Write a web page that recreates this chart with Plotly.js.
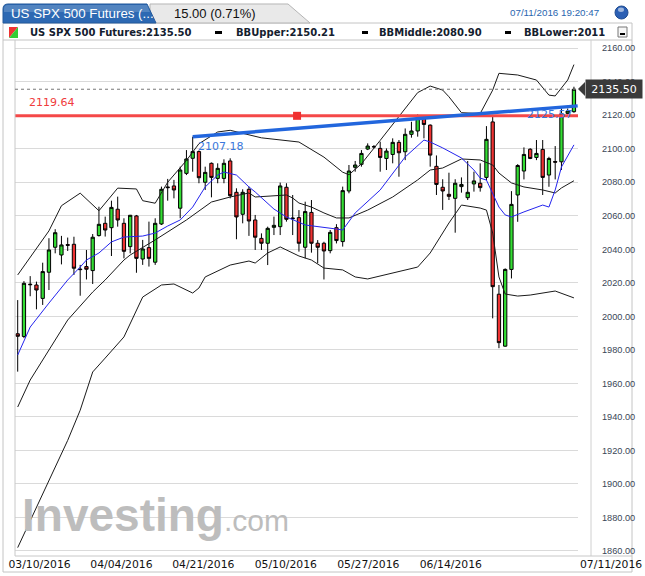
<!DOCTYPE html>
<html><head><meta charset="utf-8">
<script src="https://cdn.plot.ly/plotly-3.0.1.min.js"></script>
<style>html,body{margin:0;padding:0;background:#fff;}#chart{width:645px;height:576px;}</style>
</head><body><div id="chart"></div>
<script>
// ---- data ----
const open  = [1989.6,1988.0,2019.2,2018.7,2010.7,2026.3,2041.2,2036.6,2042.8,2043.0,2028.2,2029.7,2027.3,2048.2,2055.5,2052.9,2063.9,2055.5,2041.6,2059.9,2034.2,2041.0,2032.3,2055.1,2077.2,2077.8,2064.5,2085.3,2094.3,2098.3,2080.0,2091.3,2082.3,2082.3,2092.7,2074.0,2060.9,2075.8,2057.5,2046.5,2043.6,2053.1,2053.5,2077.0,2058.7,2058.9,2041.2,2062.0,2043.6,2043.6,2039.2,2052.9,2044.6,2074.8,2088.9,2090.7,2099.8,2101.3,2100.2,2094.2,2096.6,2103.8,2098.2,2108.6,2110.6,2118.1,2114.1,2089.5,2077.0,2072.8,2070.4,2077.4,2070.8,2079.0,2079.4,2082.9,2116.0,2013.2,1982.2,2028.0,2072.4,2086.7,2099.7,2094.8,2099.6,2084.3,2092.4,2092.2,2121.1,2122.1];
const high  = [2009.7,2021.0,2024.0,2020.7,2032.0,2046.6,2052.0,2048.0,2047.0,2047.5,2030.7,2039.6,2049.1,2065.4,2059.5,2069.0,2071.4,2058.5,2060.5,2060.5,2045.6,2056.5,2058.5,2077.4,2082.0,2081.4,2089.3,2099.2,2107.18,2099.0,2089.3,2091.8,2091.3,2093.7,2094.3,2076.4,2075.8,2077.4,2060.5,2049.5,2053.5,2059.5,2079.8,2079.4,2072.4,2063.4,2068.4,2069.4,2045.5,2044.5,2051.5,2055.0,2077.4,2090.3,2092.7,2099.2,2103.2,2102.2,2104.2,2100.2,2106.2,2105.2,2112.1,2116.1,2120.5,2118.5,2114.5,2096.0,2081.8,2085.7,2081.8,2082.9,2092.7,2086.3,2091.3,2113.5,2120.2,2018.7,2028.6,2074.7,2090.8,2100.8,2100.3,2105.2,2105.2,2095.2,2101.6,2124.0,2124.0,2137.0];
const low   = [1967.0,1987.0,2012.0,2004.2,2006.8,2015.7,2037.6,2031.0,2039.0,2024.7,2012.3,2022.0,2019.3,2047.6,2047.6,2036.0,2053.5,2034.6,2037.6,2026.0,2030.7,2029.7,2030.7,2054.5,2069.0,2070.4,2058.5,2084.3,2086.3,2079.4,2075.4,2071.0,2079.4,2079.4,2070.4,2046.0,2055.5,2048.0,2039.6,2039.6,2030.6,2048.5,2048.5,2056.5,2048.5,2038.6,2034.6,2038.0,2031.6,2022.0,2037.6,2043.5,2041.6,2073.4,2086.3,2089.3,2099.2,2100.2,2086.3,2087.3,2091.3,2083.3,2093.2,2106.6,2107.2,2106.2,2089.3,2072.4,2063.5,2069.4,2049.9,2073.8,2069.4,2074.4,2074.4,2081.3,1998.8,1981.0,1981.9,2022.6,2056.4,2081.7,2093.8,2093.2,2072.4,2077.3,2081.7,2087.3,2120.5,2121.5];
const close = [1988.1,2019.7,2018.9,2015.7,2026.7,2039.6,2049.9,2042.6,2042.4,2028.7,2027.9,2028.1,2047.2,2054.9,2051.5,2065.0,2057.5,2038.8,2060.3,2034.6,2040.2,2034.6,2055.5,2075.8,2076.8,2075.4,2087.3,2093.9,2098.3,2082.7,2085.9,2082.9,2088.3,2091.3,2072.0,2059.3,2074.0,2056.9,2047.2,2043.6,2052.5,2054.3,2077.8,2057.9,2058.3,2043.6,2062.5,2043.6,2041.2,2039.0,2050.1,2045.2,2075.0,2086.7,2090.3,2097.2,2101.6,2101.1,2094.8,2098.6,2103.8,2097.6,2108.6,2110.6,2118.1,2114.5,2096.2,2078.7,2074.8,2071.6,2079.4,2078.7,2074.0,2080.8,2076.8,2105.6,2017.7,1984.3,2028.0,2066.8,2090.0,2096.6,2094.2,2097.2,2082.9,2094.2,2092.0,2120.9,2122.5,2135.5];

const upperX = [0,2,5,7,10,13,16,19,20,22,24,27,29,32,34,39,45,49,52,53,55,58,62,64,66,68,69,71,74,76,77,80,83,85,86,88,89];
const upperY = [2024.7,2035,2051,2066,2073.5,2063,2076.5,2076,2069,2067.5,2080,2093,2103,2110,2111,2106.5,2104,2095,2086,2084.5,2091,2105,2124,2133.5,2137.4,2135,2131,2121.5,2121,2135,2145,2144,2141,2132,2131.5,2141,2150.21];
const middleX = [0,2,8,12,14,17,18,22,27,31,34,37,38,43,44,45,47,49,51,53,56,60,64,66,68,71,74,76,77,78,79,81,84,86,87,89];
const middleY = [1945.9,1962,1997.8,2014.5,2021.7,2033.6,2036.6,2045.6,2057.5,2068.2,2071.2,2073.6,2071.2,2072.4,2070.6,2067.6,2065.2,2061.7,2058.7,2058.7,2063.4,2071.2,2081.4,2087.3,2088.5,2093.9,2093.3,2090.3,2085.5,2082.5,2079.6,2077.2,2075.4,2073.6,2076.6,2080.9];
const lowerX = [0,2,5,8,10,12,14,17,20,23,25,28,29,30,34,37,38,40,42,43,45,47,49,52,54,56,64,66,69,71,74,75,76,77,78,80,82,86,89];
const lowerY = [1862,1878,1902,1926,1944,1966.8,1975.1,1987.7,2011.5,2018.7,2019.3,2013.9,2016.9,2023.5,2030.6,2033,2031.8,2037.8,2041.4,2039.6,2036,2033.6,2028.8,2027.7,2023.5,2022.3,2029.4,2037.8,2055.7,2066.4,2064.6,2063.4,2049.7,2023.5,2013.3,2012.1,2012.7,2015.1,2011];
const maX = [0,2,5,8,10,11,13,15,17,20,22,24,26,28,30,32,33,35,37,38,41,43,46,49,51,52,54,58,62,65,66,68,71,73,74,75,77,78,79,81,84,85,86,87,89];
const maY = [1976.9,1993.6,2007.9,2021.7,2029.4,2033.6,2037.8,2044.4,2047.3,2047.9,2049.7,2053.9,2057.5,2065.2,2077.2,2084.3,2086.1,2084.3,2077.2,2074.2,2064,2059.3,2054.5,2053.3,2052.1,2051.5,2061.7,2075.4,2095.1,2105.2,2104,2100.5,2094.5,2087.3,2082.5,2081.3,2065.2,2060.5,2059.3,2062.3,2066.4,2065.2,2075.4,2089.1,2102.3];

const hLevel = [2119.64];
const hMarkX = [44.7];
const trendX = [28, 89.6];
const trendY = [2107.18, 2125.57];
const lastPrice = 2135.50;

const tickPos  = [3.5, 16.6, 29.7, 42.9, 56.1, 69.3];
const tickText = ['03/10/2016','04/04/2016','04/21/2016','05/10/2016','05/27/2016','06/14/2016'];
const lastTick = '07/11/2016';
const yTicks = [1860,1880,1900,1920,1940,1960,1980,2000,2020,2040,2060,2080,2100,2120,2140,2160];

const idx = open.map((_, i) => i);

// ---- pixel helpers for chrome (page = 645x576, plot 15..578 x 40..556) ----
const PL = 15, PR = 578, PT = 40, PB = 556;
const px = x => (x - PL) / (PR - PL);
const py = y => (PB - y) / (PB - PT);
const P = (x, y) => px(x).toFixed(5) + ',' + py(y).toFixed(5);

const traces = [
  {type: 'candlestick', x: idx, open: open, high: high, low: low, close: close,
   increasing: {line: {color: '#000', width: 1}, fillcolor: '#33dd33'},
   decreasing: {line: {color: '#000', width: 1}, fillcolor: '#ee3333'},
   whiskerwidth: 0, hoverinfo: 'skip', showlegend: false},
  {type: 'scatter', mode: 'lines', x: upperX, y: upperY, line: {color: '#1a1a1a', width: 1}, hoverinfo: 'skip', showlegend: false},
  {type: 'scatter', mode: 'lines', x: middleX, y: middleY, line: {color: '#1a1a1a', width: 1}, hoverinfo: 'skip', showlegend: false},
  {type: 'scatter', mode: 'lines', x: lowerX, y: lowerY, line: {color: '#1a1a1a', width: 1}, hoverinfo: 'skip', showlegend: false},
  {type: 'scatter', mode: 'lines', x: maX, y: maY, line: {color: '#2424ee', width: 1}, hoverinfo: 'skip', showlegend: false},
  {type: 'scatter', mode: 'lines', x: [-0.5, 90], y: [hLevel[0], hLevel[0]], line: {color: '#f54848', width: 3}, hoverinfo: 'skip', showlegend: false},
  {type: 'scatter', mode: 'lines', x: trendX, y: trendY, line: {color: '#2266dd', width: 3.5}, hoverinfo: 'skip', showlegend: false},
  {type: 'scatter', mode: 'markers', x: hMarkX, y: hLevel, marker: {symbol: 'square', size: 8, color: '#f03030'}, hoverinfo: 'skip', showlegend: false}
];

const shapes = [
  // outer frame
  {type: 'rect', xref: 'paper', yref: 'paper', x0: px(3), x1: px(632), y0: py(572), y1: py(23), line: {color: '#c4c4c4', width: 1}, layer: 'below'},
  // legend row bottom
  {type: 'line', xref: 'paper', yref: 'paper', x0: px(3), x1: px(632), y0: py(40), y1: py(40), line: {color: '#c4c4c4', width: 1}},
  // plot left / right separators
  {type: 'line', xref: 'paper', yref: 'paper', x0: px(15), x1: px(15), y0: py(40), y1: py(556), line: {color: '#c8c8c8', width: 1}},
  {type: 'line', xref: 'paper', yref: 'paper', x0: px(591), x1: px(591), y0: py(40), y1: py(556), line: {color: '#d0d0d0', width: 1}},
  {type: 'line', xref: 'paper', yref: 'paper', x0: px(15), x1: px(632), y0: py(556), y1: py(556), line: {color: '#c8c8c8', width: 1}},
  // gray tab
  {type: 'path', xref: 'paper', yref: 'paper', path: 'M' + P(150, 23) + 'L' + P(150, 4) + 'L' + P(288, 4) + 'L' + P(310, 23) + 'Z', fillcolor: '#e9e9e9', line: {color: '#b5b5b5', width: 1}},
  // blue tab
  {type: 'path', xref: 'paper', yref: 'paper', path: 'M' + P(3, 23) + 'L' + P(3, 9) + 'Q' + P(3, 4) + ' ' + P(8, 4) + 'L' + P(147, 4) + 'L' + P(156, 23) + 'Z', fillcolor: '#2d69b3', line: {color: '#245a9c', width: 1}},
  {type: 'path', xref: 'paper', yref: 'paper', path: 'M' + P(4, 12) + 'L' + P(4, 9) + 'Q' + P(4, 5) + ' ' + P(8, 5) + 'L' + P(147, 5) + 'L' + P(150, 12) + 'Z', fillcolor: 'rgba(255,255,255,0.18)', line: {width: 0}},
  // dotted last-price line
  {type: 'line', xref: 'paper', yref: 'y', x0: 0, x1: 1, y0: lastPrice, y1: lastPrice, line: {color: '#777', width: 1, dash: 'dot'}},
  // price box arrow
  {type: 'path', xref: 'paper', yref: 'paper', path: 'M' + P(578, 89) + 'L' + P(585, 82) + 'L' + P(585, 96) + 'Z', fillcolor: '#3a3a3a', line: {width: 0}},
  // legend icon (red / green halves)
  {type: 'path', xref: 'paper', yref: 'paper', path: 'M' + P(9, 27) + 'L' + P(18, 27) + 'L' + P(9, 38) + 'Z', fillcolor: '#ee3333', line: {width: 0}},
  {type: 'path', xref: 'paper', yref: 'paper', path: 'M' + P(18, 27) + 'L' + P(18, 38) + 'L' + P(9, 38) + 'Z', fillcolor: '#33cc33', line: {width: 0}},
  // legend dashes
  {type: 'rect', xref: 'paper', yref: 'paper', x0: px(215), x1: px(222), y0: py(34), y1: py(31), fillcolor: '#000', line: {width: 0}},
  {type: 'rect', xref: 'paper', yref: 'paper', x0: px(362), x1: px(368), y0: py(34), y1: py(31), fillcolor: '#000', line: {width: 0}},
  {type: 'rect', xref: 'paper', yref: 'paper', x0: px(505), x1: px(511), y0: py(34), y1: py(31), fillcolor: '#000', line: {width: 0}},
  // minimize box
  {type: 'rect', xref: 'paper', yref: 'paper', x0: px(618), x1: px(627), y0: py(37), y1: py(27), fillcolor: '#f6f6f6', line: {color: '#777', width: 1}},
  {type: 'line', xref: 'paper', yref: 'paper', x0: px(620), x1: px(625), y0: py(34), y1: py(34), line: {color: '#000', width: 2}},
  // blue ball
  {type: 'circle', xref: 'paper', yref: 'paper', x0: px(615), x1: px(628), y0: py(19), y1: py(6), fillcolor: '#2b5fb4', line: {color: '#1d4a90', width: 1}},
  {type: 'circle', xref: 'paper', yref: 'paper', x0: px(618), x1: px(624), y0: py(12), y1: py(7.5), fillcolor: 'rgba(255,255,255,0.55)', line: {width: 0}}
];

const A = (text, x, y, opts) => Object.assign({text: text, xref: 'paper', yref: 'paper', x: px(x), y: py(y), xanchor: 'left', yanchor: 'middle', showarrow: false}, opts || {});
const legendFont = {family: 'DejaVu Sans', size: 10, color: '#14202e', weight: 'bold'};

const annotations = [
  {text: '<b>Investing</b><span style="font-size:30px">.com</span>', xref: 'paper', yref: 'paper', x: px(20), y: py(543), xanchor: 'left', yanchor: 'bottom', showarrow: false,
   font: {family: 'Liberation Sans', size: 46, color: '#bdbdbd'}},
  A('US SPX 500 Futures (...', 9, 13.5, {font: {family: 'Liberation Sans', size: 13.3, color: '#ffffff'}}),
  A('15.00 (0.71%)', 172, 13.5, {font: {family: 'Liberation Sans', size: 13, color: '#111111'}}),
  A('07/11/2016 19:20:47', 508, 13, {font: {family: 'Liberation Sans', size: 9.8, color: '#2a66b0'}}),
  A('US SPX 500 Futures:2135.50', 28, 32.5, {font: legendFont}),
  A('BBUpper:2150.21', 234, 32.5, {font: legendFont}),
  A('BBMiddle:2080.90', 377, 32.5, {font: legendFont}),
  A('BBLower:2011', 522, 32.5, {font: legendFont}),
  {text: '2119.64', x: 1.5, y: 2127.3, xref: 'x', yref: 'y', xanchor: 'left', yanchor: 'middle', showarrow: false, font: {family: 'DejaVu Sans', size: 11, color: '#f03c3c'}},
  {text: '2107.18', x: 28.6, y: 2101.6, xref: 'x', yref: 'y', xanchor: 'left', yanchor: 'middle', showarrow: false, font: {family: 'DejaVu Sans', size: 11, color: '#3a78dc'}},
  {text: '2125.57', x: 81.2, y: 2120.4, xref: 'x', yref: 'y', xanchor: 'left', yanchor: 'middle', showarrow: false, font: {family: 'DejaVu Sans', size: 11, color: '#3a78dc'}},
  {text: lastPrice.toFixed(2), xref: 'paper', yref: 'y', x: px(585), y: lastPrice, xanchor: 'left', yanchor: 'middle', showarrow: false,
   width: 52, height: 14, align: 'center', bgcolor: '#3a3a3a', borderpad: 2, font: {family: 'DejaVu Sans', size: 11, color: '#ffffff'}},
  A(lastTick, 578, 564, {font: {family: 'DejaVu Sans', size: 10.8, color: '#111'}})
];

const layout = {
  width: 645, height: 576,
  margin: {l: PL, r: 645 - PR, t: PT, b: 576 - PB},
  paper_bgcolor: '#ffffff', plot_bgcolor: '#ffffff',
  showlegend: false,
  boxgap: 0.25,
  xaxis: {range: [-0.43, 89.65], rangeslider: {visible: false}, showgrid: false, zeroline: false,
          tickmode: 'array', tickvals: tickPos, ticktext: tickText, ticks: '', showline: false,
          tickfont: {family: 'DejaVu Sans', size: 10.8, color: '#111'}, fixedrange: true},
  yaxis: {range: [1857.0, 2164.88], side: 'right', tickmode: 'array', tickvals: yTicks,
          ticktext: yTicks.map(v => v.toFixed(2)), showgrid: true, gridcolor: '#dadada', gridwidth: 1,
          zeroline: false, ticks: '', ticklabelstandoff: 23, showline: false,
          tickfont: {family: 'Liberation Sans', size: 9.2, color: '#3a4656'}, fixedrange: true},
  shapes: shapes,
  annotations: annotations
};

Plotly.newPlot('chart', traces, layout, {staticPlot: true, displayModeBar: false});
</script>
</body></html>
